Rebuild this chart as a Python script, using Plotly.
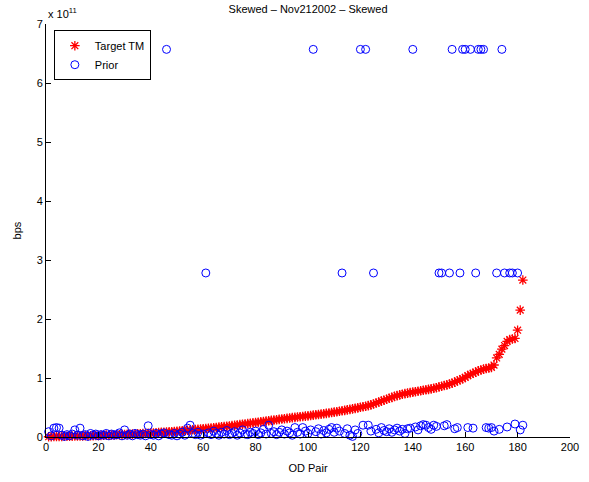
import plotly.graph_objects as go

# OD pair index
od_pair = list(range(1, 183))

# Target TM (units of 1e11 bps), sorted ascending
target_tm = [
    0.004, 0.006, 0.008, 0.009, 0.010, 0.011, 0.012, 0.013, 0.014, 0.015,
    0.016, 0.017, 0.018, 0.019, 0.020, 0.021, 0.022, 0.023, 0.025, 0.026,
    0.028, 0.029, 0.031, 0.032, 0.034, 0.035, 0.037, 0.039, 0.041, 0.043,
    0.045, 0.047, 0.049, 0.051, 0.053, 0.056, 0.058, 0.060, 0.063, 0.066,
    0.069, 0.072, 0.075, 0.078, 0.081, 0.084, 0.087, 0.090, 0.094, 0.098,
    0.102, 0.106, 0.110, 0.114, 0.118, 0.122, 0.126, 0.130, 0.135, 0.140,
    0.144, 0.148, 0.152, 0.157, 0.162, 0.167, 0.172, 0.177, 0.182, 0.187,
    0.192, 0.197, 0.203, 0.209, 0.215, 0.221, 0.227, 0.233, 0.239, 0.245,
    0.251, 0.257, 0.263, 0.269, 0.275, 0.281, 0.287, 0.293, 0.299, 0.305,
    0.310, 0.316, 0.322, 0.328, 0.333, 0.338, 0.343, 0.348, 0.353, 0.358,
    0.364, 0.370, 0.376, 0.382, 0.388, 0.394, 0.400, 0.407, 0.414, 0.421,
    0.428, 0.436, 0.444, 0.452, 0.460, 0.468, 0.476, 0.485, 0.494, 0.503,
    0.512, 0.522, 0.532, 0.545, 0.560, 0.576, 0.592, 0.608, 0.624, 0.640,
    0.656, 0.672, 0.688, 0.702, 0.714, 0.725, 0.735, 0.744, 0.752, 0.760,
    0.768, 0.776, 0.784, 0.792, 0.800, 0.808, 0.816, 0.826, 0.836, 0.850,
    0.860, 0.872, 0.884, 0.898, 0.912, 0.930, 0.950, 0.970, 0.990, 1.010,
    1.040, 1.060, 1.080, 1.100, 1.120, 1.135, 1.150, 1.160, 1.170, 1.180,
    1.220, 1.340, 1.400, 1.490, 1.550, 1.620, 1.650, 1.660, 1.670, 1.810,
    2.150, 2.660,
]

# Prior (units of 1e11 bps)
prior = [
    0.09, 0.02, 0.15, 0.16, 0.15, 0.03, 0.01, 0.04, 0.02, 0.05,
    0.12, 0.03, 0.15, 0.02, 0.04, 0.01, 0.06, 0.03, 0.05, 0.02,
    0.04, 0.03, 0.06, 0.02, 0.05, 0.03, 0.04, 0.07, 0.02, 0.12,
    0.03, 0.05, 0.02, 0.06, 0.04, 0.03, 0.05, 0.02, 0.19, 0.04,
    0.03, 0.06, 0.02, 0.05, 0.07, 6.57, 0.04, 0.03, 0.06, 0.02,
    0.05, 0.08, 0.03, 0.15, 0.20, 0.06, 0.04, 0.08, 0.03, 0.05,
    2.78, 0.07, 0.04, 0.10, 0.06, 0.03, 0.08, 0.05, 0.11, 0.04,
    0.06, 0.09, 0.03, 0.07, 0.12, 0.05, 0.04, 0.08, 0.06, 0.10,
    0.04, 0.07, 0.13, 0.05, 0.20, 0.06, 0.09, 0.04, 0.08, 0.12,
    0.05, 0.10, 0.07, 0.03, 0.16, 0.08, 0.05, 0.16, 0.10, 0.06,
    0.12, 6.57, 0.09, 0.14, 0.05, 0.11, 0.07, 0.13, 0.16, 0.08,
    0.15, 0.10, 2.78, 0.06, 0.14, 0.03, 0.01, 0.12, 0.06, 6.57,
    0.20, 6.57, 0.20, 0.10, 2.78, 0.13, 0.07, 0.16, 0.11, 0.09,
    0.14, 0.08, 0.12, 0.15, 0.10, 0.13, 0.06, 0.14, 0.15, 6.57,
    0.17, 0.12, 0.19, 0.21, 0.20, 0.16, 0.13, 0.20, 0.18, 2.78,
    2.78, 0.19, 0.21, 2.78, 6.57, 0.14, 0.16, 2.78, 6.57, 6.57,
    0.16, 6.57, 0.15, 2.78, 6.57, 6.57, 6.57, 0.16, 0.15, 0.16,
    0.10, 2.78, 0.13, 6.57, 2.78, 0.17, 2.78, 2.78, 0.22, 2.78,
    0.12, 0.20,
]

x_ticks = [0, 20, 40, 60, 80, 100, 120, 140, 160, 180, 200]
y_ticks = [0, 1, 2, 3, 4, 5, 6, 7]
y_ticktext = ["0", "1", "2", "3", "4", "5", "6", "7"]

FONT = "Liberation Sans, Arial, Helvetica, sans-serif"

fig = go.Figure()
fig.add_trace(go.Scatter(
    x=od_pair, y=target_tm, mode="markers", name="Target TM",
    marker=dict(symbol="asterisk-open", size=8, color="red",
                line=dict(color="red", width=1.3)),
    cliponaxis=False,
))
fig.add_trace(go.Scatter(
    x=od_pair, y=prior, mode="markers", name="Prior",
    marker=dict(symbol="circle-open", size=8, color="blue",
                line=dict(color="blue", width=1)),
    cliponaxis=False,
))

fig.update_layout(
    width=589, height=482,
    margin=dict(l=46, r=19, t=24, b=45, autoexpand=False),
    paper_bgcolor="white", plot_bgcolor="white",
    font=dict(family=FONT, size=11, color="black"),
    title=dict(text="Skewed \u2013 Nov212002 \u2013 Skewed", x=0.523, xanchor="center",
               y=0.982, yanchor="middle", font=dict(family=FONT, size=11, color="black")),
    showlegend=True,
    legend=dict(x=0.015, y=0.985, xanchor="left", yanchor="top",
                bordercolor="black", borderwidth=1, bgcolor="white",
                font=dict(family=FONT, size=11, color="black"),
                tracegroupgap=0, itemwidth=30),
    xaxis=dict(range=[0, 200], tickvals=x_ticks, ticks="inside", ticklen=5,
               showline=True, linecolor="black", linewidth=1, mirror=False,
               showgrid=False, zeroline=False, tickcolor="black", automargin=False,
               tickfont=dict(family=FONT, size=11, color="black"),
               title=dict(text="OD Pair", standoff=12,
                          font=dict(family=FONT, size=11, color="black"))),
    yaxis=dict(range=[0, 7], tickvals=y_ticks, ticktext=y_ticktext,
               ticks="inside", ticklen=5, automargin=False,
               showline=True, linecolor="black", linewidth=1, mirror=False,
               showgrid=False, zeroline=False, tickcolor="black",
               tickfont=dict(family=FONT, size=11, color="black"),
               title=dict(text="bps", standoff=12,
                          font=dict(family=FONT, size=11, color="black"))),
    annotations=[dict(text="x 10<sup>11</sup>", xref="paper", yref="paper",
                      x=0, y=1, xanchor="left", yanchor="bottom", yshift=2,
                      showarrow=False, font=dict(family=FONT, size=11, color="black"))],
)

fig.write_html("out.html")
